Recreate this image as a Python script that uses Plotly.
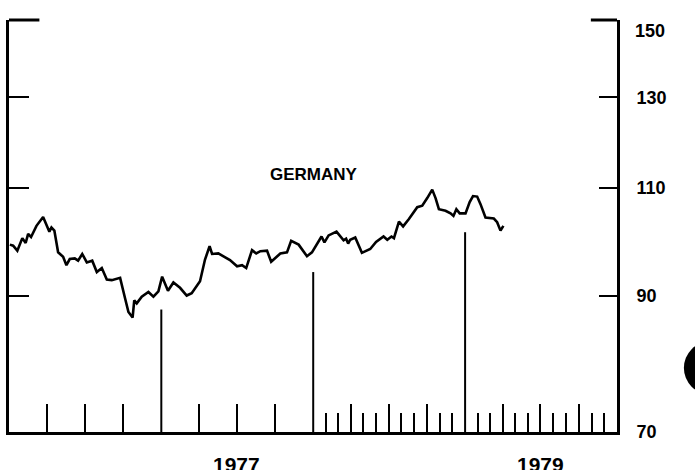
import math
import plotly.graph_objects as go

# ---- data (Germany index, weekly-ish) ----
dates = [
    "1976-01-03", "1976-01-11", "1976-01-21", "1976-02-02", "1976-02-10", "1976-02-16", "1976-02-23",
    "1976-03-07", "1976-03-23", "1976-04-07", "1976-04-12", "1976-04-19", "1976-04-28", "1976-05-10",
    "1976-05-18", "1976-05-26", "1976-06-07", "1976-06-15", "1976-06-25", "1976-07-06", "1976-07-19",
    "1976-07-30", "1976-08-11", "1976-08-23", "1976-09-04", "1976-09-24", "1976-10-06", "1976-10-14",
    "1976-10-24", "1976-10-28", "1976-11-03", "1976-11-15", "1976-12-01", "1976-12-13", "1976-12-25",
    "1977-01-03", "1977-01-17", "1977-01-30", "1977-02-15", "1977-03-03", "1977-03-15", "1977-04-04",
    "1977-04-16", "1977-04-27", "1977-05-03", "1977-05-18", "1977-06-15", "1977-07-02", "1977-07-14",
    "1977-07-24", "1977-08-07", "1977-08-17", "1977-08-27", "1977-09-12", "1977-09-22", "1977-10-14",
    "1977-10-30", "1977-11-09", "1977-11-27", "1977-12-17", "1977-12-29",
    "1978-01-08", "1978-01-21", "1978-01-28", "1978-02-07", "1978-02-26", "1978-03-15", "1978-03-21",
    "1978-03-26", "1978-03-31", "1978-04-12", "1978-04-28", "1978-05-18", "1978-06-01", "1978-06-19",
    "1978-06-28", "1978-07-08", "1978-07-14", "1978-07-26", "1978-08-05", "1978-08-19", "1978-09-08",
    "1978-09-20", "1978-10-02", "1978-10-14", "1978-10-22", "1978-10-30", "1978-11-15", "1978-11-27",
    "1978-12-04", "1978-12-11", "1978-12-19",
    "1979-01-02", "1979-01-12", "1979-01-20", "1979-01-30", "1979-02-07", "1979-02-19", "1979-03-11",
    "1979-03-19", "1979-03-27", "1979-04-03",
]
germany = [
    99.0, 98.8, 97.9, 100.2, 99.3, 101.0, 100.4,
    102.5, 104.2, 101.4, 102.2, 101.6, 97.6, 96.8,
    95.3, 96.4, 96.5, 96.1, 97.3, 95.8, 96.1,
    94.1, 94.8, 92.8, 92.7, 93.1, 89.6, 87.4,
    86.5, 89.3, 88.8, 89.9, 90.7, 89.9, 90.8,
    93.3, 90.9, 92.3, 91.4, 90.1, 90.5, 92.5,
    96.3, 98.7, 97.3, 97.4, 96.2, 95.1, 95.3,
    94.8, 98.0, 97.4, 97.8, 97.9, 95.9, 97.4,
    97.6, 99.7, 99.0, 96.9, 97.6,
    98.9, 100.5, 99.4, 100.7, 101.4, 99.8, 100.1,
    99.2, 99.9, 100.3, 97.5, 98.2, 99.5, 100.5,
    99.9, 100.5, 100.2, 103.3, 102.4, 103.8, 106.1,
    106.4, 107.9, 109.6, 107.9, 105.7, 105.4, 104.9,
    104.4, 105.7, 104.9,
    104.9, 107.1, 108.3, 108.2, 106.7, 104.1, 103.9,
    103.2, 101.6, 102.5,
]
assert len(dates) == len(germany)

# year boundary markers and the level each vertical line reaches
year_starts = ["1977-01-01", "1978-01-01", "1979-01-01"]
year_marker_tops = [87.8, 94.1, 101.3]

# quarterly ticks (all years) and monthly ticks (1978-1979)
quarter_ticks = [f"{y}-{m:02d}-01" for y in (1976, 1977, 1978, 1979) for m in (4, 7, 10)]
month_ticks = [f"{y}-{m:02d}-01" for y in (1978, 1979) for m in (2, 3, 5, 6, 8, 9, 11, 12)]

y_ticks = [70, 90, 110, 130]
y_tick_text = ["70", "90", "110", "130"]
y_min, y_max = 70, 150

year_labels = ["1977", "1979"]
year_label_pos = ["1977-07-01", "1979-07-01"]

FONT = "Liberation Sans, Arial, sans-serif"

fig = go.Figure()

fig.add_trace(go.Scatter(
    x=dates, y=germany, mode="lines",
    line=dict(color="black", width=2.6), hoverinfo="skip", showlegend=False,
))

# year marker lines
mx, my = [], []
for d, top in zip(year_starts, year_marker_tops):
    mx += [d, d, None]
    my += [y_min, top, None]
fig.add_trace(go.Scatter(
    x=mx, y=my, mode="lines", line=dict(color="black", width=2),
    hoverinfo="skip", showlegend=False,
))

# dummy trace for the left axis
fig.add_trace(go.Scatter(
    x=[dates[0]], y=[germany[0]], yaxis="y2", mode="markers",
    marker=dict(opacity=0), hoverinfo="skip", showlegend=False,
))

lr = [math.log10(y_min), math.log10(y_max)]
label_font = dict(size=18, family=FONT, color="black", weight="bold")

fig.update_layout(
    width=695, height=470,
    margin=dict(l=9, r=78, t=20, b=38),
    paper_bgcolor="white", plot_bgcolor="white",
    font=dict(family=FONT, color="black"),
    xaxis=dict(
        type="date", range=["1976-01-01", "1980-01-01"],
        showgrid=False, zeroline=False,
        showline=True, linecolor="black", linewidth=3,
        ticks="inside", tickmode="array", tickvals=quarter_ticks,
        ticklen=28, tickwidth=2, tickcolor="black",
        showticklabels=False,
        minor=dict(ticks="inside", tickmode="array", tickvals=month_ticks,
                   ticklen=19, tickwidth=2, tickcolor="black", showgrid=False),
    ),
    yaxis=dict(
        type="log", range=lr, side="right",
        showgrid=False, zeroline=False,
        showline=True, linecolor="black", linewidth=3,
        ticks="inside", tickmode="array", tickvals=y_ticks, ticktext=y_tick_text,
        ticklen=18, tickwidth=2, tickcolor="black",
        ticklabelstandoff=13,
        tickfont=label_font,
    ),
    yaxis2=dict(
        type="log", range=lr, side="left", overlaying="y",
        showgrid=False, zeroline=False,
        showline=True, linecolor="black", linewidth=3,
        ticks="inside", tickmode="array", tickvals=[90, 110, 130],
        ticklen=20, tickwidth=2, tickcolor="black",
        showticklabels=False,
    ),
    shapes=[
        dict(type="line", xref="paper", yref="paper", x0=0, x1=0.05, y0=1, y1=1,
             line=dict(color="black", width=3)),
        dict(type="line", xref="paper", yref="paper", x0=0.957, x1=1, y0=1, y1=1,
             line=dict(color="black", width=3)),
        dict(type="circle", xref="paper", yref="paper", x0=1.110, x1=1.197, y0=0.091, y1=0.220,
             fillcolor="black", line=dict(color="black", width=0)),
    ],
    annotations=[
        dict(text="150", xref="paper", yref="paper", x=1, y=1, xanchor="left", yanchor="middle",
             xshift=16, yshift=-11, showarrow=False, font=label_font),
        dict(text="GERMANY", xref="paper", yref="paper", x=0.502, y=0.625,
             xanchor="center", yanchor="middle", showarrow=False,
             font=dict(size=17, family=FONT, color="black", weight="bold")),
    ] + [
        dict(text=t, xref="x", yref="paper", x=p, y=0, yanchor="top", yshift=-19,
             showarrow=False, font=dict(size=21, family=FONT, color="black", weight="bold"))
        for t, p in zip(year_labels, year_label_pos)
    ],
)

fig.write_html("out.html", config={"displayModeBar": False},
               post_script="document.body.style.margin='0';")
